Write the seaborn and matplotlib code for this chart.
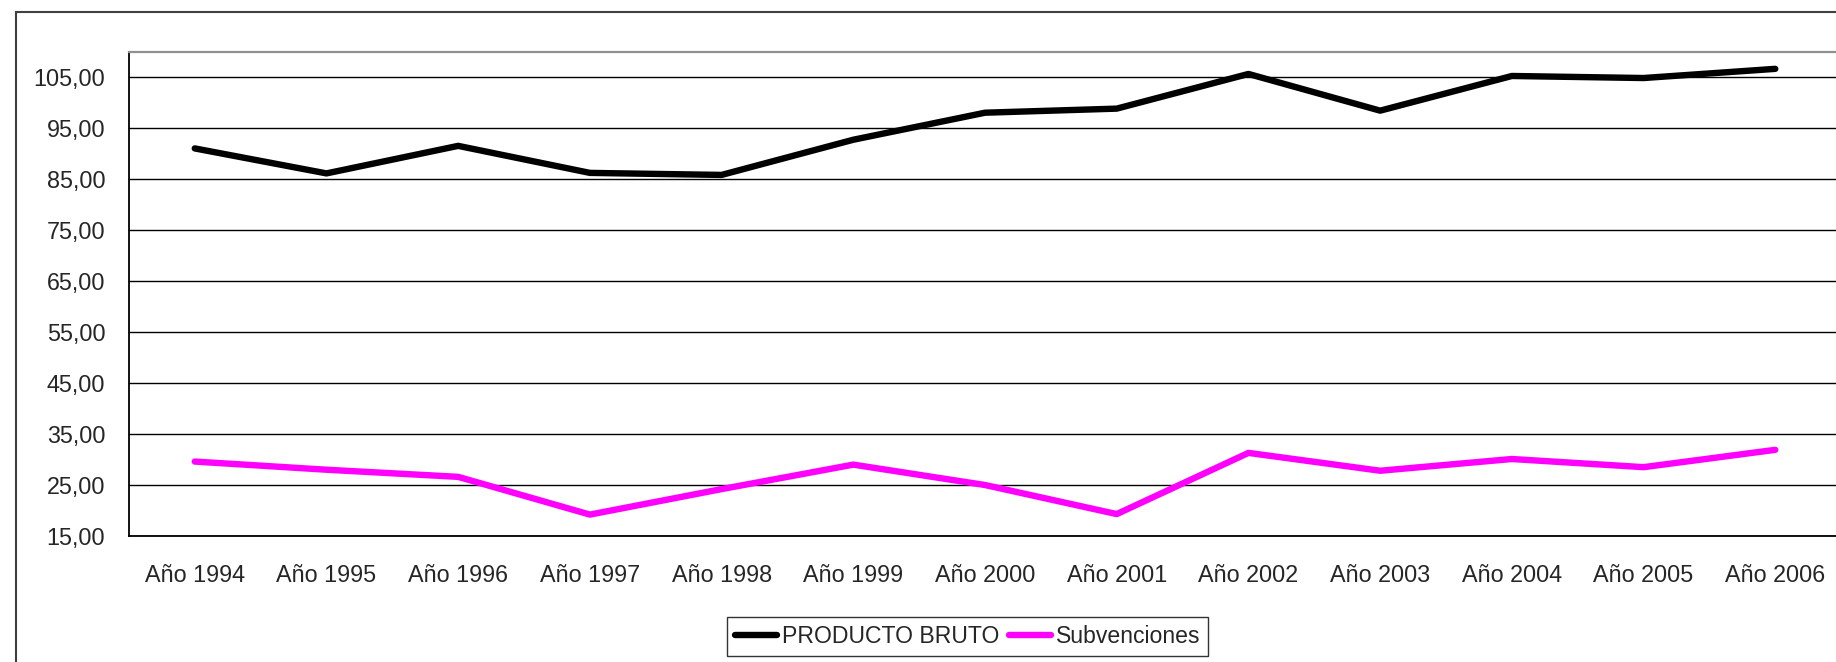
import numpy as np
import pandas as pd
import seaborn as sns
import matplotlib
matplotlib.use("Agg")
import matplotlib.pyplot as plt
from matplotlib.patches import Rectangle

# data
years = ["Año 1994", "Año 1995", "Año 1996", "Año 1997", "Año 1998", "Año 1999", "Año 2000",
         "Año 2001", "Año 2002", "Año 2003", "Año 2004", "Año 2005", "Año 2006"]
producto_bruto = [91.0, 86.1, 91.5, 86.2, 85.8, 92.7, 98.0, 98.8, 105.6, 98.4, 105.2, 104.8, 106.6]
subvenciones = [29.6, 28.0, 26.6, 19.2, 24.2, 29.0, 25.0, 19.3, 31.3, 27.8, 30.1, 28.5, 31.9]
series_names = ["PRODUCTO BRUTO", "Subvenciones"]
series_colors = ["#000000", "#FF00FF"]
y_ticks = [15, 25, 35, 45, 55, 65, 75, 85, 95, 105]
y_tick_labels = ["15,00", "25,00", "35,00", "45,00", "55,00", "65,00", "75,00", "85,00", "95,00", "105,00"]

df = pd.DataFrame({
    "pos": list(range(len(years))) * 2,
    "valor": producto_bruto + subvenciones,
    "serie": [series_names[0]] * len(years) + [series_names[1]] * len(years),
})

sns.set_style("white")
plt.rcParams['font.family'] = ['Liberation Sans', 'DejaVu Sans']

fig = plt.figure(figsize=(18.36, 6.62), dpi=100)
ax = fig.add_axes([0.0702, 0.1903, 0.9326, 0.7319])

sns.lineplot(data=df, x="pos", y="valor", hue="serie", hue_order=series_names,
             palette=series_colors, linewidth=4.6, ax=ax, legend=True)

ax.set_xlim(-0.5, len(years) - 0.5)
ax.set_ylim(15, 110)
ax.set_yticks(y_ticks)
ax.set_yticklabels(y_tick_labels, fontsize=16.8)
ax.set_xticks(range(len(years)))
ax.set_xticklabels(years, fontsize=16.8)
ax.set_xticks(np.arange(-0.5, len(years), 1.0), minor=True)
ax.tick_params(axis="x", which="major", length=0, pad=20)
ax.tick_params(axis="x", which="minor", length=7, width=1.2, color="#000000", direction="out")
ax.tick_params(axis="y", which="major", length=7, width=1.2, color="#000000", direction="out", pad=10)
ax.set_xlabel("")
ax.set_ylabel("")

for y in y_ticks:
    ax.axhline(y, color="#000000", linewidth=1.0, zorder=0)

ax.spines["left"].set_color("#000000")
ax.spines["left"].set_linewidth(1.3)
ax.spines["bottom"].set_color("#000000")
ax.spines["bottom"].set_linewidth(1.3)
ax.spines["top"].set_color("#909090")
ax.spines["top"].set_linewidth(1.6)
ax.spines["right"].set_visible(False)

leg = ax.legend(loc="center", bbox_to_anchor=(0.527, 0.0385), bbox_transform=fig.transFigure,
                ncol=2, fontsize=16.6, frameon=True, fancybox=False, shadow=False,
                handlelength=1.85, handletextpad=0.2, columnspacing=0.4, borderpad=0.35)
leg.get_frame().set_edgecolor("#000000")
leg.get_frame().set_linewidth(1.0)
for line in leg.get_lines():
    line.set_linewidth(4.6)

# outer chart-area border
fig.patches.append(Rectangle((16 / 1836, -0.1), 1.2, 1.1 - 12 / 662, transform=fig.transFigure,
                             fill=False, edgecolor="#404040", linewidth=1.5))

fig.savefig("out.png", dpi=100)
